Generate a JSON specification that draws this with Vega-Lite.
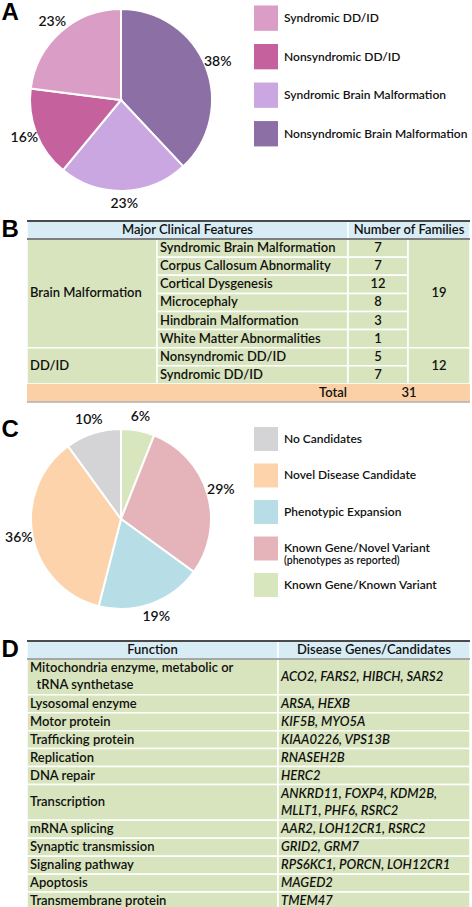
{
  "$schema": "https://vega.github.io/schema/vega-lite/v6.json",
  "padding": 0,
  "background": "white",
  "spacing": 0,
  "config": {"view": {"stroke": null}},
  "resolve": {"scale": {"color": "independent", "fill": "independent", "x": "independent", "y": "independent", "theta": "independent"}},
  "datasets": {
    "pieA": [
      {"cat": "Nonsyndromic Brain Malformation", "p": 0.38, "o": 1},
      {"cat": "Syndromic Brain Malformation", "p": 0.23, "o": 2},
      {"cat": "Nonsyndromic DD/ID", "p": 0.16, "o": 3},
      {"cat": "Syndromic DD/ID", "p": 0.23, "o": 4}
    ],
    "pieC": [
      {"cat": "Known Gene/Known Variant", "p": 0.06, "o": 1},
      {"cat": "Known Gene/Novel Variant", "p": 0.29, "o": 2, "sub": "(phenotypes as reported)"},
      {"cat": "Phenotypic Expansion", "p": 0.19, "o": 3},
      {"cat": "Novel Disease Candidate", "p": 0.36, "o": 4},
      {"cat": "No Candidates", "p": 0.10, "o": 5}
    ],
    "tabB": [
      {"c0": 0, "c1": 1, "r0": 1, "r1": 7, "t": "Brain Malformation", "kind": "body"},
      {"c0": 0, "c1": 1, "r0": 7, "r1": 9, "t": "DD/ID", "kind": "body"},
      {"c0": 1, "c1": 2, "r0": 1, "r1": 2, "t": "Syndromic Brain Malformation", "kind": "body"},
      {"c0": 1, "c1": 2, "r0": 2, "r1": 3, "t": "Corpus Callosum Abnormality", "kind": "body"},
      {"c0": 1, "c1": 2, "r0": 3, "r1": 4, "t": "Cortical Dysgenesis", "kind": "body"},
      {"c0": 1, "c1": 2, "r0": 4, "r1": 5, "t": "Microcephaly", "kind": "body"},
      {"c0": 1, "c1": 2, "r0": 5, "r1": 6, "t": "Hindbrain Malformation", "kind": "body"},
      {"c0": 1, "c1": 2, "r0": 6, "r1": 7, "t": "White Matter Abnormalities", "kind": "body"},
      {"c0": 1, "c1": 2, "r0": 7, "r1": 8, "t": "Nonsyndromic DD/ID", "kind": "body"},
      {"c0": 1, "c1": 2, "r0": 8, "r1": 9, "t": "Syndromic DD/ID", "kind": "body"},
      {"c0": 2, "c1": 3, "r0": 1, "r1": 2, "n": 7, "kind": "body"},
      {"c0": 2, "c1": 3, "r0": 2, "r1": 3, "n": 7, "kind": "body"},
      {"c0": 2, "c1": 3, "r0": 3, "r1": 4, "n": 12, "kind": "body"},
      {"c0": 2, "c1": 3, "r0": 4, "r1": 5, "n": 8, "kind": "body"},
      {"c0": 2, "c1": 3, "r0": 5, "r1": 6, "n": 3, "kind": "body"},
      {"c0": 2, "c1": 3, "r0": 6, "r1": 7, "n": 1, "kind": "body"},
      {"c0": 2, "c1": 3, "r0": 7, "r1": 8, "n": 5, "kind": "body"},
      {"c0": 2, "c1": 3, "r0": 8, "r1": 9, "n": 7, "kind": "body"},
      {"c0": 3, "c1": 4, "r0": 1, "r1": 7, "n": 19, "kind": "body"},
      {"c0": 3, "c1": 4, "r0": 7, "r1": 9, "n": 12, "kind": "body"}
    ],
    "tabBm": [
      {"c0": 0, "c1": 1, "r0": 0, "r1": 1, "t": "Major Clinical Features", "kind": "header"},
      {"c0": 1, "c1": 2, "r0": 0, "r1": 1, "t": "Number of Families", "kind": "header"},
      {"c0": 0, "c1": 1, "r0": 9, "r1": 10, "t": "Total", "kind": "total"},
      {"c0": 1, "c1": 2, "r0": 9, "r1": 10, "n": 31, "kind": "total"}
    ],
    "tabD": [
      {"c0": 0, "c1": 1, "r0": 0, "r1": 1, "t": "Function", "kind": "header"},
      {"c0": 1, "c1": 2, "r0": 0, "r1": 1, "t": "Disease Genes/Candidates", "kind": "header"},
      {"c0": 0, "c1": 1, "r0": 1, "r1": 3, "t": "Mitochondria enzyme, metabolic or\n\u200b\u00a0\u00a0tRNA synthetase", "kind": "body"},
      {"c0": 1, "c1": 2, "r0": 1, "r1": 3, "t": "ACO2, FARS2, HIBCH, SARS2", "kind": "body"},
      {"c0": 0, "c1": 1, "r0": 3, "r1": 4, "t": "Lysosomal enzyme", "kind": "body"},
      {"c0": 1, "c1": 2, "r0": 3, "r1": 4, "t": "ARSA, HEXB", "kind": "body"},
      {"c0": 0, "c1": 1, "r0": 4, "r1": 5, "t": "Motor protein", "kind": "body"},
      {"c0": 1, "c1": 2, "r0": 4, "r1": 5, "t": "KIF5B, MYO5A", "kind": "body"},
      {"c0": 0, "c1": 1, "r0": 5, "r1": 6, "t": "Trafficking protein", "kind": "body"},
      {"c0": 1, "c1": 2, "r0": 5, "r1": 6, "t": "KIAA0226, VPS13B", "kind": "body"},
      {"c0": 0, "c1": 1, "r0": 6, "r1": 7, "t": "Replication", "kind": "body"},
      {"c0": 1, "c1": 2, "r0": 6, "r1": 7, "t": "RNASEH2B", "kind": "body"},
      {"c0": 0, "c1": 1, "r0": 7, "r1": 8, "t": "DNA repair", "kind": "body"},
      {"c0": 1, "c1": 2, "r0": 7, "r1": 8, "t": "HERC2", "kind": "body"},
      {"c0": 0, "c1": 1, "r0": 8, "r1": 10, "t": "Transcription", "kind": "body"},
      {"c0": 1, "c1": 2, "r0": 8, "r1": 10, "t": "ANKRD11, FOXP4, KDM2B,\nMLLT1, PHF6, RSRC2", "kind": "body"},
      {"c0": 0, "c1": 1, "r0": 10, "r1": 11, "t": "mRNA splicing", "kind": "body"},
      {"c0": 1, "c1": 2, "r0": 10, "r1": 11, "t": "AAR2, LOH12CR1, RSRC2", "kind": "body"},
      {"c0": 0, "c1": 1, "r0": 11, "r1": 12, "t": "Synaptic transmission", "kind": "body"},
      {"c0": 1, "c1": 2, "r0": 11, "r1": 12, "t": "GRID2, GRM7", "kind": "body"},
      {"c0": 0, "c1": 1, "r0": 12, "r1": 13, "t": "Signaling pathway", "kind": "body"},
      {"c0": 1, "c1": 2, "r0": 12, "r1": 13, "t": "RPS6KC1, PORCN, LOH12CR1", "kind": "body"},
      {"c0": 0, "c1": 1, "r0": 13, "r1": 14, "t": "Apoptosis", "kind": "body"},
      {"c0": 1, "c1": 2, "r0": 13, "r1": 14, "t": "MAGED2", "kind": "body"},
      {"c0": 0, "c1": 1, "r0": 14, "r1": 15, "t": "Transmembrane protein", "kind": "body"},
      {"c0": 1, "c1": 2, "r0": 14, "r1": 15, "t": "TMEM47", "kind": "body"}
    ]
  },
  "vconcat": [
    {
      "bounds": "flush",
      "spacing": 0,
      "hconcat": [
        {
          "width": 27, "height": 25,
          "data": {"values": [{"letter": "A"}]},
          "mark": {"type": "text", "font": "Liberation Sans", "fontSize": 24, "fontWeight": "bold", "align": "left", "baseline": "middle", "dx": -12, "color": "black"},
          "encoding": {"text": {"field": "letter", "type": "nominal"}}
        },
        {
          "bounds": "flush",
          "spacing": 39,
          "hconcat": [
            {
              "width": 188, "height": 200,
              "data": {"name": "pieA"},
              "layer": [
                {
                  "mark": {"type": "arc", "radius": 91, "stroke": "white", "strokeWidth": 2},
                  "encoding": {
                    "theta": {"field": "p", "type": "quantitative", "stack": true},
                    "order": {"field": "o", "type": "quantitative"},
                    "color": {"field": "cat", "type": "nominal", "legend": null,
                      "scale": {"domain": ["Syndromic DD/ID", "Nonsyndromic DD/ID", "Syndromic Brain Malformation", "Nonsyndromic Brain Malformation"],
                                "range": ["#da9dc5", "#c5629e", "#cba7e1", "#8b6fa5"]}}
                  }
                },
                {
                  "mark": {"type": "text", "radius": 104, "font": "Lato", "fontSize": 14, "fontWeight": 600, "color": "#111"},
                  "encoding": {
                    "theta": {"field": "p", "type": "quantitative", "stack": true},
                    "order": {"field": "o", "type": "quantitative"},
                    "text": {"field": "p", "type": "quantitative", "format": ".0%"}
                  }
                }
              ]
            },
            {
              "width": 24, "height": 218,
              "data": {"name": "pieA"},
              "layer": [
                {
                  "mark": {"type": "rect"},
                  "encoding": {
                    "y": {"field": "cat", "type": "nominal", "axis": null,
                      "scale": {"domain": ["Syndromic DD/ID", "Nonsyndromic DD/ID", "Syndromic Brain Malformation", "Nonsyndromic Brain Malformation"], "paddingInner": 0.3425, "paddingOuter": 1.1575, "align": 0.071}},
                    "color": {"field": "cat", "type": "nominal", "legend": null,
                      "scale": {"domain": ["Syndromic DD/ID", "Nonsyndromic DD/ID", "Syndromic Brain Malformation", "Nonsyndromic Brain Malformation"],
                                "range": ["#da9dc5", "#c5629e", "#cba7e1", "#8b6fa5"]}}
                  }
                },
                {
                  "mark": {"type": "text", "align": "left", "baseline": "middle", "dx": 18, "font": "Lato", "fontSize": 12, "fontWeight": 600, "color": "#111"},
                  "encoding": {
                    "y": {"field": "cat", "type": "nominal", "axis": null},
                    "text": {"field": "cat", "type": "nominal"}
                  }
                }
              ]
            }
          ]
        }
      ]
    },
    {
      "bounds": "flush",
      "spacing": 0,
      "hconcat": [
        {
          "width": 27, "height": 18,
          "data": {"values": [{"letter": "B"}]},
          "mark": {"type": "text", "font": "Liberation Sans", "fontSize": 24, "fontWeight": "bold", "align": "left", "baseline": "middle", "dx": -12, "color": "black"},
          "encoding": {"text": {"field": "letter", "type": "nominal"}}
        },
        {
          "width": 443, "height": 181,
          "resolve": {"scale": {"x": "independent"}},
          "layer": [
            {
              "data": {"name": "tabB"},
              "transform": [
                {"calculate": "(datum.c0 + datum.c1) / 2", "as": "cm"},
                {"calculate": "(datum.r0 + datum.r1) / 2", "as": "rm"}
              ],
              "layer": [
                {
                  "mark": {"type": "rect", "stroke": "white", "strokeWidth": 1.5},
                  "encoding": {
                    "x": {"field": "c0", "type": "quantitative", "axis": null, "scale": {"domain": [0, 1, 2, 3, 4], "range": [0, 130, 321, 381, 443], "nice": false, "zero": false}},
                    "x2": {"field": "c1"},
                    "y": {"field": "r0", "type": "quantitative", "axis": null, "scale": {"domain": [0, 10], "reverse": true, "nice": false, "zero": false}},
                    "y2": {"field": "r1"},
                    "fill": {"field": "kind", "type": "nominal", "legend": null, "scale": {"domain": ["header", "body", "total"], "range": ["#d7ecf5", "#d8e4bd", "#fbd0a6"]}}
                  }
                },
                {
                  "transform": [{"filter": "datum.c0 < 2"}],
                  "mark": {"type": "text", "align": "left", "baseline": "middle", "dx": 3, "font": "Lato", "fontSize": 13, "fontWeight": 600, "color": "#111"},
                  "encoding": {
                    "x": {"field": "c0", "type": "quantitative"},
                    "y": {"field": "rm", "type": "quantitative"},
                    "text": {"field": "t", "type": "nominal"}
                  }
                },
                {
                  "transform": [{"filter": "datum.c0 >= 2"}],
                  "mark": {"type": "text", "align": "center", "baseline": "middle", "font": "Lato", "fontSize": 13, "fontWeight": 600, "color": "#111"},
                  "encoding": {
                    "x": {"field": "cm", "type": "quantitative"},
                    "y": {"field": "rm", "type": "quantitative"},
                    "text": {"field": "n", "type": "quantitative"}
                  }
                }
              ]
            },
            {
              "data": {"name": "tabBm"},
              "transform": [
                {"calculate": "(datum.c0 + datum.c1) / 2", "as": "cm"},
                {"calculate": "(datum.r0 + datum.r1) / 2", "as": "rm"}
              ],
              "layer": [
                {
                  "transform": [{"filter": "datum.kind == 'header'"}],
                  "mark": {"type": "rect", "stroke": "white", "strokeWidth": 1.5},
                  "encoding": {
                    "x": {"field": "c0", "type": "quantitative", "axis": null, "scale": {"domain": [0, 1, 2], "range": [0, 321, 443], "nice": false, "zero": false}},
                    "x2": {"field": "c1"},
                    "y": {"field": "r0", "type": "quantitative", "axis": null},
                    "y2": {"field": "r1"},
                    "fill": {"field": "kind", "type": "nominal", "legend": null}
                  }
                },
                {
                  "transform": [{"filter": "datum.kind == 'total'"}],
                  "mark": {"type": "rect"},
                  "encoding": {
                    "x": {"field": "c0", "type": "quantitative"},
                    "x2": {"field": "c1"},
                    "y": {"field": "r0", "type": "quantitative"},
                    "y2": {"field": "r1"},
                    "fill": {"field": "kind", "type": "nominal", "legend": null}
                  }
                },
                {
                  "transform": [{"filter": "datum.kind == 'header'"}],
                  "mark": {"type": "text", "align": "center", "baseline": "middle", "font": "Lato", "fontSize": 13, "fontWeight": 600, "color": "#111"},
                  "encoding": {
                    "x": {"field": "cm", "type": "quantitative"},
                    "y": {"field": "rm", "type": "quantitative"},
                    "text": {"field": "t", "type": "nominal"}
                  }
                },
                {
                  "transform": [{"filter": "datum.kind == 'total' && datum.c0 == 0"}],
                  "mark": {"type": "text", "align": "right", "baseline": "middle", "dx": -1, "font": "Lato", "fontSize": 13, "fontWeight": 600, "color": "#111"},
                  "encoding": {
                    "x": {"field": "c1", "type": "quantitative"},
                    "y": {"field": "rm", "type": "quantitative"},
                    "text": {"field": "t", "type": "nominal"}
                  }
                },
                {
                  "transform": [{"filter": "datum.kind == 'total' && datum.c0 == 1"}],
                  "mark": {"type": "text", "align": "center", "baseline": "middle", "font": "Lato", "fontSize": 13, "fontWeight": 600, "color": "#111"},
                  "encoding": {
                    "x": {"field": "cm", "type": "quantitative"},
                    "y": {"field": "rm", "type": "quantitative"},
                    "text": {"field": "n", "type": "quantitative"}
                  }
                }
              ]
            },
            {
              "data": {"values": [{}]},
              "mark": {"type": "rule", "color": "#4a4a4a", "strokeWidth": 2},
              "encoding": {"y": {"datum": 0, "type": "quantitative"}}
            },
            {
              "data": {"values": [{}]},
              "mark": {"type": "rule", "color": "#555555", "strokeWidth": 1.5},
              "encoding": {"y": {"datum": 1, "type": "quantitative"}}
            },
            {
              "data": {"values": [{}]},
              "mark": {"type": "rule", "color": "#b0b0b0", "strokeWidth": 1.5},
              "encoding": {"y": {"datum": 10, "type": "quantitative"}}
            }
          ]
        }
      ]
    },
    {
      "bounds": "flush",
      "spacing": 0,
      "hconcat": [
        {
          "width": 27, "height": 54,
          "data": {"values": [{"letter": "C"}]},
          "mark": {"type": "text", "font": "Liberation Sans", "fontSize": 24, "fontWeight": "bold", "align": "left", "baseline": "middle", "dx": -12, "color": "black"},
          "encoding": {"text": {"field": "letter", "type": "nominal"}}
        },
        {
          "bounds": "flush",
          "spacing": 39,
          "hconcat": [
            {
              "width": 188, "height": 232,
              "data": {"name": "pieC"},
              "layer": [
                {
                  "mark": {"type": "arc", "radius": 90, "stroke": "white", "strokeWidth": 2},
                  "encoding": {
                    "theta": {"field": "p", "type": "quantitative", "stack": true},
                    "order": {"field": "o", "type": "quantitative"},
                    "color": {"field": "cat", "type": "nominal", "legend": null,
                      "scale": {"domain": ["No Candidates", "Novel Disease Candidate", "Phenotypic Expansion", "Known Gene/Novel Variant", "Known Gene/Known Variant"],
                                "range": ["#d4d4d7", "#fdd3ab", "#b7dee7", "#e4b4ba", "#d7e6bc"]}}
                  }
                },
                {
                  "mark": {"type": "text", "radius": 104, "font": "Lato", "fontSize": 14, "fontWeight": 600, "color": "#111"},
                  "encoding": {
                    "theta": {"field": "p", "type": "quantitative", "stack": true},
                    "order": {"field": "o", "type": "quantitative"},
                    "text": {"field": "p", "type": "quantitative", "format": ".0%"}
                  }
                }
              ]
            },
            {
              "width": 24, "height": 235,
              "data": {"name": "pieC"},
              "layer": [
                {
                  "mark": {"type": "rect"},
                  "encoding": {
                    "y": {"field": "cat", "type": "nominal", "axis": null,
                      "scale": {"domain": ["No Candidates", "Novel Disease Candidate", "Phenotypic Expansion", "Known Gene/Novel Variant", "Known Gene/Known Variant"], "paddingInner": 0.3425, "paddingOuter": 0.89, "align": 0.369}},
                    "color": {"field": "cat", "type": "nominal", "legend": null,
                      "scale": {"domain": ["No Candidates", "Novel Disease Candidate", "Phenotypic Expansion", "Known Gene/Novel Variant", "Known Gene/Known Variant"],
                                "range": ["#d4d4d7", "#fdd3ab", "#b7dee7", "#e4b4ba", "#d7e6bc"]}}
                  }
                },
                {
                  "mark": {"type": "text", "align": "left", "baseline": "middle", "dx": 18, "font": "Lato", "fontSize": 12, "fontWeight": 600, "color": "#111"},
                  "encoding": {
                    "y": {"field": "cat", "type": "nominal", "axis": null},
                    "text": {"field": "cat", "type": "nominal"}
                  }
                },
                {
                  "transform": [{"filter": "isValid(datum.sub)"}],
                  "mark": {"type": "text", "align": "left", "baseline": "middle", "dx": 18, "dy": 12.5, "font": "Lato", "fontSize": 10.5, "fontWeight": 600, "color": "#111"},
                  "encoding": {
                    "y": {"field": "cat", "type": "nominal", "axis": null},
                    "text": {"field": "sub", "type": "nominal"}
                  }
                }
              ]
            }
          ]
        }
      ]
    },
    {
      "bounds": "flush",
      "spacing": 0,
      "hconcat": [
        {
          "width": 27, "height": 18,
          "data": {"values": [{"letter": "D"}]},
          "mark": {"type": "text", "font": "Liberation Sans", "fontSize": 24, "fontWeight": "bold", "align": "left", "baseline": "middle", "dx": -12, "color": "black"},
          "encoding": {"text": {"field": "letter", "type": "nominal"}}
        },
        {
          "width": 443, "height": 269,
          "layer": [
            {
              "data": {"name": "tabD"},
              "transform": [
                {"calculate": "(datum.c0 + datum.c1) / 2", "as": "cm"},
                {"calculate": "(datum.r0 + datum.r1) / 2", "as": "rm"}
              ],
              "layer": [
                {
                  "mark": {"type": "rect", "stroke": "white", "strokeWidth": 1.5},
                  "encoding": {
                    "x": {"field": "c0", "type": "quantitative", "axis": null, "scale": {"domain": [0, 1, 2], "range": [0, 251, 443], "nice": false, "zero": false}},
                    "x2": {"field": "c1"},
                    "y": {"field": "r0", "type": "quantitative", "axis": null, "scale": {"domain": [0, 15], "reverse": true, "nice": false, "zero": false}},
                    "y2": {"field": "r1"},
                    "fill": {"field": "kind", "type": "nominal", "legend": null, "scale": {"domain": ["header", "body", "total"], "range": ["#d7ecf5", "#d8e4bd", "#fbd0a6"]}}
                  }
                },
                {
                  "transform": [{"filter": "datum.kind == 'header'"}],
                  "mark": {"type": "text", "align": "center", "baseline": "middle", "font": "Lato", "fontSize": 13, "fontWeight": 600, "color": "#111"},
                  "encoding": {
                    "x": {"field": "cm", "type": "quantitative"},
                    "y": {"field": "rm", "type": "quantitative"},
                    "text": {"field": "t", "type": "nominal"}
                  }
                },
                {
                  "transform": [{"filter": "datum.kind == 'body' && datum.c0 == 0 && indexof(datum.t, '\\n') < 0"}],
                  "mark": {"type": "text", "align": "left", "baseline": "middle", "dx": 3, "font": "Lato", "fontSize": 13, "fontWeight": 600, "color": "#111"},
                  "encoding": {
                    "x": {"field": "c0", "type": "quantitative"},
                    "y": {"field": "rm", "type": "quantitative"},
                    "text": {"field": "t", "type": "nominal"}
                  }
                },
                {
                  "transform": [{"filter": "datum.kind == 'body' && datum.c0 == 0 && indexof(datum.t, '\\n') >= 0"}],
                  "mark": {"type": "text", "align": "left", "baseline": "middle", "dx": 3, "dy": -8.5, "lineBreak": "\n", "lineHeight": 17, "font": "Lato", "fontSize": 13, "fontWeight": 600, "color": "#111"},
                  "encoding": {
                    "x": {"field": "c0", "type": "quantitative"},
                    "y": {"field": "rm", "type": "quantitative"},
                    "text": {"field": "t", "type": "nominal"}
                  }
                },
                {
                  "transform": [{"filter": "datum.kind == 'body' && datum.c0 == 1 && indexof(datum.t, '\\n') < 0"}],
                  "mark": {"type": "text", "align": "left", "baseline": "middle", "dx": 3, "font": "Lato", "fontSize": 13, "fontWeight": 600, "fontStyle": "italic", "color": "#111"},
                  "encoding": {
                    "x": {"field": "c0", "type": "quantitative"},
                    "y": {"field": "rm", "type": "quantitative"},
                    "text": {"field": "t", "type": "nominal"}
                  }
                },
                {
                  "transform": [{"filter": "datum.kind == 'body' && datum.c0 == 1 && indexof(datum.t, '\\n') >= 0"}],
                  "mark": {"type": "text", "align": "left", "baseline": "middle", "dx": 3, "dy": -8.5, "lineBreak": "\n", "lineHeight": 17, "font": "Lato", "fontSize": 13, "fontWeight": 600, "fontStyle": "italic", "color": "#111"},
                  "encoding": {
                    "x": {"field": "c0", "type": "quantitative"},
                    "y": {"field": "rm", "type": "quantitative"},
                    "text": {"field": "t", "type": "nominal"}
                  }
                }
              ]
            },
            {
              "data": {"values": [{}]},
              "mark": {"type": "rule", "color": "#4a4a4a", "strokeWidth": 2},
              "encoding": {"y": {"datum": 0, "type": "quantitative"}}
            },
            {
              "data": {"values": [{}]},
              "mark": {"type": "rule", "color": "#8a8a8a", "strokeWidth": 1.5},
              "encoding": {"y": {"datum": 1, "type": "quantitative"}}
            },
            {
              "data": {"values": [{}]},
              "mark": {"type": "rule", "color": "#4a4a4a", "strokeWidth": 2},
              "encoding": {"y": {"datum": 15, "type": "quantitative"}}
            }
          ]
        }
      ]
    }
  ]
}
